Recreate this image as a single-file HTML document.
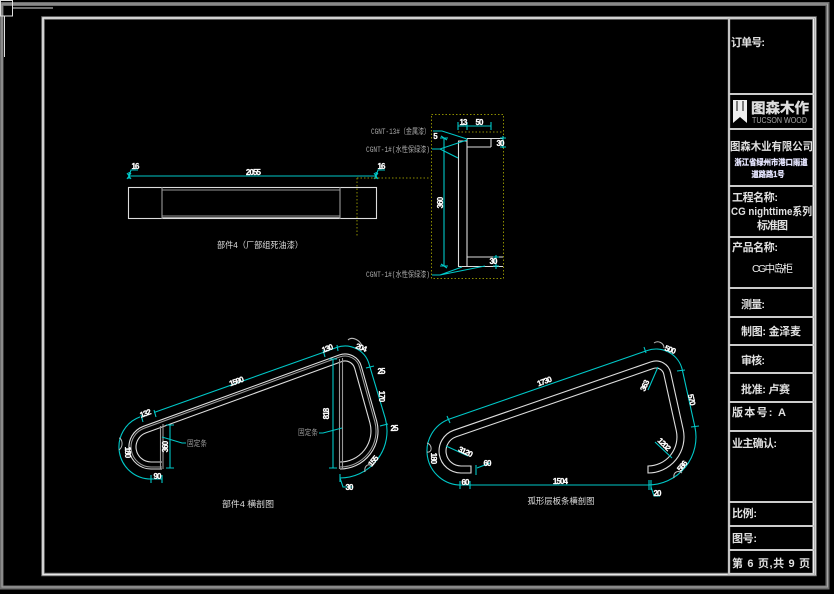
<!DOCTYPE html>
<html><head><meta charset="utf-8"><style>
html,body{margin:0;padding:0;background:#000;width:834px;height:594px;overflow:hidden}
svg{display:block;filter:blur(0.3px)}
text{font-family:"Liberation Sans","Noto Sans CJK SC",sans-serif;fill:#d8d8d8}
.t{font-size:11px;font-weight:bold;fill:#e0e0e0}
.d{font-size:8px;font-weight:bold;fill:#fff;stroke:#fff;stroke-width:.25;text-anchor:middle;letter-spacing:-.9px}
.l{font-size:8px;fill:#aaa;font-family:"Liberation Mono","Noto Sans CJK SC",monospace}
.c{font-size:8.5px;fill:#ddd;text-anchor:middle}
.w{fill:none;stroke:#ddd;stroke-width:1.1}
.g{fill:none;stroke:#999;stroke-width:1.1}
.b{fill:none;stroke:#00c8c8;stroke-width:1.1}
.y{fill:none;stroke:#8c8c00;stroke-width:1;stroke-dasharray:1.5 2}
.h{fill:none;stroke:#bbb;stroke-width:1}
</style></head><body>
<svg width="834" height="594" viewBox="0 0 834 594" xmlns="http://www.w3.org/2000/svg">
<rect width="834" height="594" fill="#000"/>
<rect x="1.5" y="4" width="826" height="583.5" fill="none" stroke="#6e6e6e" stroke-width="4"/>
<rect x="2" y="4" width="825.5" height="583" fill="none" stroke="#a5a5a5" stroke-width="1"/>
<rect x="43" y="18" width="772" height="556.5" fill="none" stroke="#777" stroke-width="3.5"/>
<rect x="43" y="18" width="772" height="556.5" fill="none" stroke="#e8e8e8" stroke-width="1.6"/>
<rect x="0.5" y="0.5" width="12" height="15.5" fill="none" stroke="#e0e0e0" stroke-width="1"/>
<path d="M12.5 8H53M4.5 16V57" stroke="#e0e0e0" stroke-width="1" fill="none"/>

<!-- title block -->
<path d="M729 18V575M813.5 18V575" stroke="#999" stroke-width="2.4" fill="none"/>
<path d="M729 18V575M813.5 18V575" stroke="#eee" stroke-width="1" fill="none"/>
<path d="M729 18H814M729 94H814M729 129H814M729 186H814M729 237H814M729 288H814M729 317H814M729 345H814M729 373H814M729 402H814M729 431H814M729 502H814M729 526H814M729 550H814M729 574H814" stroke="#aaa" stroke-width="2" fill="none"/>
<path d="M729 18H814M729 94H814M729 129H814M729 186H814M729 237H814M729 288H814M729 317H814M729 345H814M729 373H814M729 402H814M729 431H814M729 502H814M729 526H814M729 550H814M729 574H814" stroke="#eee" stroke-width="1" fill="none"/>
<text class="t" x="731" y="46" textLength="34">订单号:</text>
<path d="M733 100H747V123L740 117L733 123Z" fill="#eee"/>
<path d="M737 101V111M743 101V111" stroke="#555" stroke-width="1.5"/>
<text x="751" y="113" font-size="14" font-weight="bold" style="fill:#ddd;stroke:#ddd;stroke-width:.4" textLength="58" lengthAdjust="spacingAndGlyphs">图森木作</text>
<text x="752" y="123" font-size="8" style="fill:#aaa" textLength="55" lengthAdjust="spacingAndGlyphs">TUCSON WOOD</text>
<text class="t" x="730" y="150" textLength="83" lengthAdjust="spacingAndGlyphs">图森木业有限公司</text>
<text x="771" y="165" font-size="8" font-weight="bold" text-anchor="middle" style="fill:#e6e6ff;stroke:#e6e6ff;stroke-width:.3" textLength="73" lengthAdjust="spacingAndGlyphs">浙江省绿州市港口雨道</text>
<text x="768" y="177" font-size="8" font-weight="bold" text-anchor="middle" style="fill:#e6e6ff;stroke:#e6e6ff;stroke-width:.3" textLength="33" lengthAdjust="spacingAndGlyphs">道路路1号</text>
<text class="t" x="732" y="201" textLength="46">工程名称:</text>
<text class="t" x="731" y="215" textLength="81" lengthAdjust="spacingAndGlyphs">CG nighttime系列</text>
<text class="t" x="757" y="229" textLength="31">标准图</text>
<text class="t" x="732" y="251" textLength="46">产品名称:</text>
<text x="752" y="272" font-size="10.5" style="fill:#eee" textLength="41">CG中岛柜</text>
<text class="t" x="741" y="308" textLength="24">测量:</text>
<text class="t" x="741" y="335" textLength="60">制图: 金泽麦</text>
<text class="t" x="741" y="364" textLength="24">审核:</text>
<text class="t" x="741" y="393" textLength="49">批准: 卢赛</text>
<text class="t" x="732" y="416" textLength="54">版本号:  A</text>
<text class="t" x="732" y="447" textLength="45">业主确认:</text>
<text class="t" x="732" y="517" textLength="25">比例:</text>
<text class="t" x="732" y="542" textLength="25">图号:</text>
<text class="t" x="732" y="567" textLength="78">第 6 页,共 9 页</text>

<!-- top-left elevation -->
<rect x="128.5" y="187.500" width="248" height="31" class="w"/>
<path d="M162 187V219M340 187V219" class="g"/>
<path d="M162 190H340M162 216H340M162 217.500H340" class="g"/>
<path d="M129 176H376" class="b" stroke-width="1.5"/>
<path d="M127 173l4 6M127 179l4-6M129 172v7M374 173l4 6M374 179l4-6M376 172v7M129 176L131 170H138M376 176L378 170H385" class="b"/>
<text class="d" x="135" y="169">16</text><text class="d" x="381" y="169">16</text>
<text class="d" x="253" y="175">2055</text>
<path d="M357 178H431M357 178V236" class="y"/>
<text class="c" x="260" y="248" textLength="86" lengthAdjust="spacingAndGlyphs">部件4（厂部组死油漆）</text>

<!-- section top-right -->
<rect x="431.500" y="114.500" width="72" height="164" class="y"/>
<path d="M458 132H503" class="y"/>
<path d="M458.500 141V266.500M467 139V266.500" class="w"/>
<path d="M458 141H467M467 138.500H503M467 147H491M491 138.500V147M467 257H503M458 266.500H503" class="w"/>
<path d="M444 138V266M440 138h8M440 266h8M441 136l6 4M441 264l6 4M458 126H491M458 122v8M467 122v8M491 122v8M503 136V148M500 138h6M500 147h6M496 255V269M493 257h6M493 266h6" class="b"/>
<path d="M433 131H442L467 139M432 149H440L467 140M440 149L458 158M432 275H440L462 267M440 275L485 266" class="b"/>
<text class="d" x="463" y="125">13</text><text class="d" x="479" y="125">50</text>
<text class="d" x="435" y="139">5</text>
<text class="d" transform="translate(443 203) rotate(-90)">360</text>
<text class="d" x="500" y="146">30</text><text class="d" x="493" y="264">30</text>
<text class="l" x="371" y="134" textLength="59" lengthAdjust="spacingAndGlyphs">CGNT-13#（金属漆）</text>
<text class="l" x="366" y="152" textLength="64" lengthAdjust="spacingAndGlyphs">CGNT-1#(水性保绿漆)</text>
<text class="l" x="366" y="277" textLength="64" lengthAdjust="spacingAndGlyphs">CGNT-1#(水性保绿漆)</text>

<!-- bottom-left section -->
<path d="M162 469H151A22 22 0 0 1 143.500 426.300L339.200 355A17 17 0 0 1 361.400 366.600L376.700 421.100A38 38 0 0 1 340 469" class="w"/>
<path d="M162 467H151A20 20 0 0 1 144.200 428.200L339.900 356.900A15 15 0 0 1 359.500 367.100L374.800 421.600A36 36 0 0 1 340 467" class="g"/>
<path d="M162 462H151A15 15 0 0 1 145.900 432.900L341.600 361.600A10 10 0 0 1 354.700 368.400L369.900 422.900A31 31 0 0 1 340 462" class="w"/>
<path d="M160.500 426V469M163 424V469M339.500 359V469M342.500 358V469" class="g"/>
<path d="M154 412.500L323 352.500M140.100 416.900A32 32 0 0 0 151 479H162M323 352.500L336.500 347.500A25 25 0 0 1 369.200 364.500L385.400 418.800A47 47 0 0 1 340 478" class="b"/>
<path d="M141 415l2 7M154 410l2 7M151 475v8M162 475v8M323 350l2 7M337 345l1 6M366 368l8-2M380 426l8-2M340 474v8M340 478l3 9H353M166 425h8M166 468h8M329 359h8M329 468h8M170 425V468M333 359V468M162 437L182 443H186M342 428L323 433H319" class="b"/>
<path d="M119 450C124 446 122 438 119 438M348 340C352 336 360 340 362 346M365 472C364 466 368 463 372 466" class="h"/>
<text class="d" transform="translate(146 416) rotate(-20)">132</text>
<text class="d" transform="translate(237 384) rotate(-20)">1590</text>
<text class="d" transform="translate(125 452) rotate(90)">180</text>
<text class="d" x="157" y="479">90</text>
<text class="d" transform="translate(168 447) rotate(-90)">360</text>
<text class="d" transform="translate(329 414) rotate(-90)">818</text>
<text class="d" transform="translate(328 351) rotate(-20)">130</text>
<text class="d" transform="translate(360 350) rotate(20)">204</text>
<text class="d" x="381" y="374">25</text>
<text class="d" transform="translate(379 396) rotate(90)">170</text>
<text class="d" x="394" y="431">25</text>
<text class="d" transform="translate(375 463) rotate(-50)">155</text>
<text class="d" x="349" y="490">30</text>
<text class="l" x="187" y="446" style="fill:#999" textLength="20" lengthAdjust="spacingAndGlyphs">固定条</text>
<text class="l" x="298" y="435" style="fill:#999" textLength="20" lengthAdjust="spacingAndGlyphs">固定条</text>
<text class="c" x="248" y="507" textLength="52" lengthAdjust="spacingAndGlyphs">部件4 横剖图</text>

<!-- bottom-right section -->
<path d="M471 466V473H461A22 22 0 0 1 453.600 430.300L650.900 361.900A15 15 0 0 1 670.700 372.900L683.200 429.400A36 36 0 0 1 648 473V466A29 29 0 0 0 676.300 430.900L663.800 374.300A8 8 0 0 0 653.300 368.500L455.900 436.900A15 15 0 0 0 461 466Z" class="w"/>
<path d="M449.500 419L646.900 350.600A27 27 0 0 1 682.400 370.300L694.900 426.900A48 48 0 0 1 648 485H461A34 34 0 0 1 449.500 419Z" class="b" stroke-width="1.2"/>
<path d="M447 416l3 7M644 347l2 6M460 481v8M470 481v8M649 480v10M651 480v10M677 371l8-1M691 427l8-1" class="b"/>
<path d="M446 446L468 456M658 367L648 390M655 442L672 458M476 465v10M477 468L490 463M651 487l3 9H660" class="b"/>
<path d="M427 443C432 444 433 453 427 452M654 343C658 340 664 343 664 348M674 478C673 472 678 470 682 473" class="h"/>
<text class="d" transform="translate(545 384) rotate(-21)">1730</text>
<text class="d" transform="translate(431 458) rotate(90)">180</text>
<text class="d" transform="translate(464 454) rotate(25)">3120</text>
<text class="d" x="465" y="485">60</text><text class="d" x="487" y="466">60</text>
<text class="d" x="560" y="484">1504</text>
<text class="d" transform="translate(647 387) rotate(-65)">363</text>
<text class="d" transform="translate(662 446) rotate(45)">1202</text>
<text class="d" transform="translate(669 352) rotate(20)">500</text>
<text class="d" transform="translate(689 400) rotate(77)">570</text>
<text class="d" transform="translate(684 468) rotate(-50)">586</text>
<text class="d" x="657" y="496">20</text>
<text class="c" x="561" y="504" textLength="67" lengthAdjust="spacingAndGlyphs">孤形层板条横剖图</text>
</svg>
</body></html>
